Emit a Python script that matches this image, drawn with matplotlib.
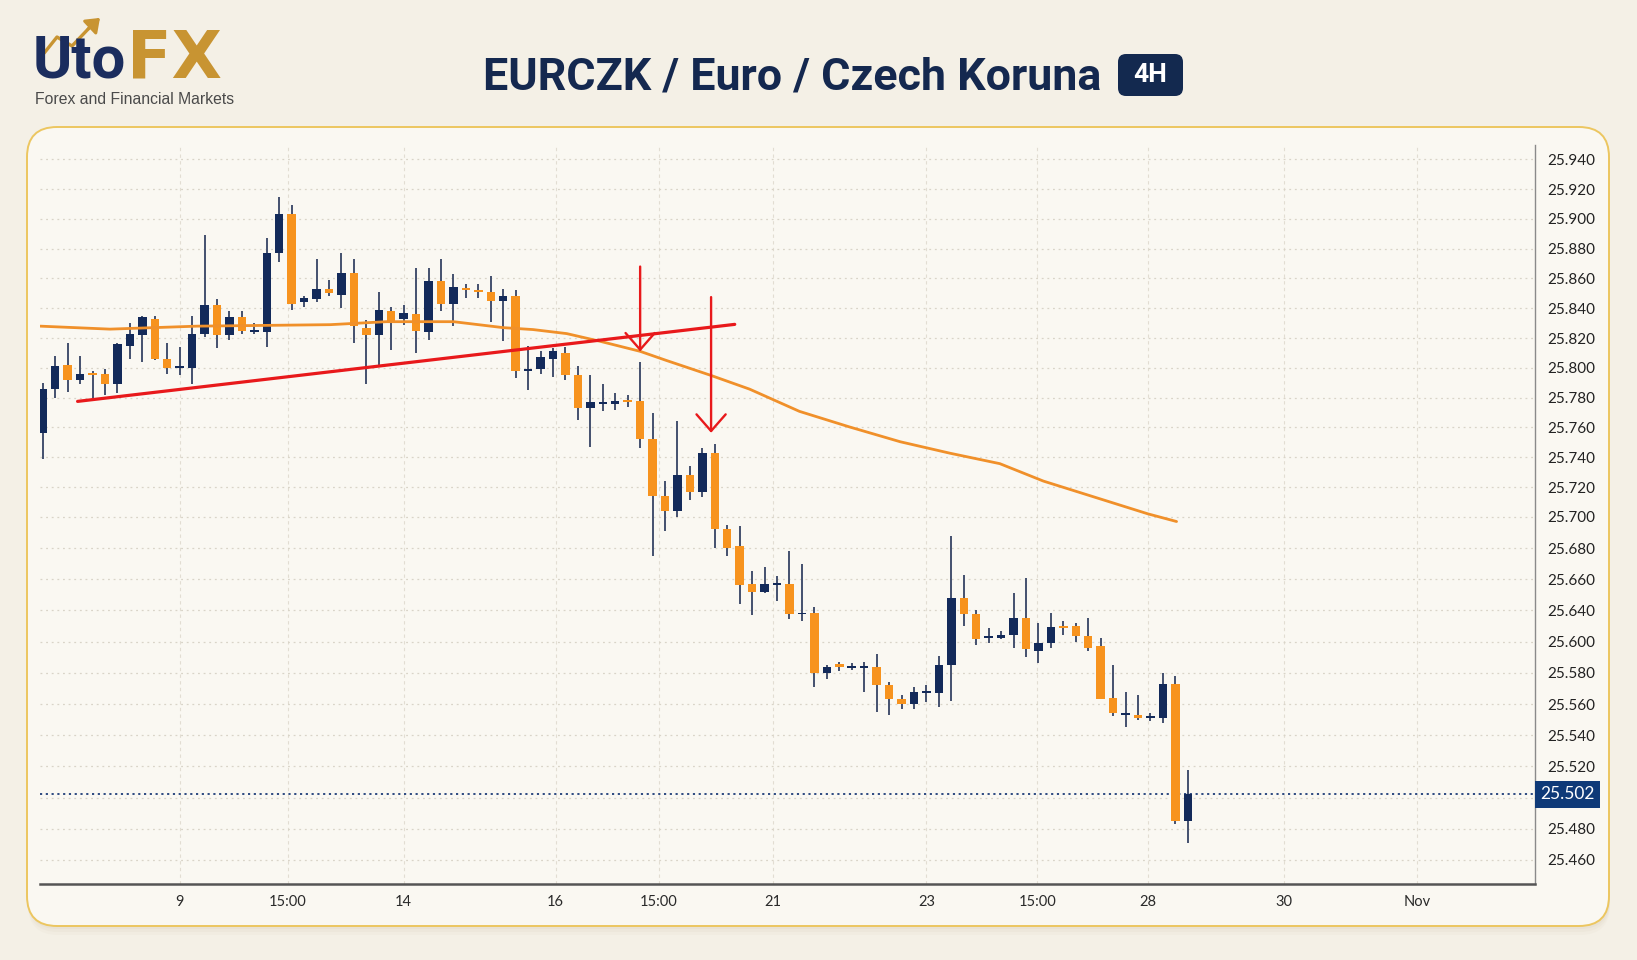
import numpy as np
import matplotlib
matplotlib.use("Agg")
import matplotlib.pyplot as plt
from matplotlib.patches import FancyBboxPatch
from matplotlib.transforms import blended_transform_factory

# ---------------- data ----------------
opens = [25.756, 25.786, 25.802, 25.792, 25.796, 25.796, 25.789, 25.815, 25.822, 25.833,
         25.806, 25.800, 25.800, 25.823, 25.842, 25.822, 25.834, 25.824, 25.824, 25.877,
         25.903, 25.844, 25.846, 25.853, 25.849, 25.864, 25.827, 25.822, 25.838, 25.833,
         25.836, 25.824, 25.858, 25.843, 25.853, 25.852, 25.851, 25.845, 25.848, 25.798,
         25.799, 25.806, 25.810, 25.795, 25.773, 25.776, 25.776, 25.778, 25.778, 25.752,
         25.714, 25.704, 25.728, 25.717, 25.743, 25.692, 25.681, 25.657, 25.652, 25.656,
         25.657, 25.635, 25.637, 25.580, 25.585, 25.583, 25.583, 25.584, 25.572, 25.563,
         25.560, 25.567, 25.567, 25.585, 25.648, 25.635, 25.604, 25.605, 25.608, 25.630,
         25.594, 25.599, 25.620, 25.620, 25.607, 25.597, 25.564, 25.553, 25.553, 25.551,
         25.551, 25.573, 25.485]
highs = [25.790, 25.808, 25.817, 25.808, 25.798, 25.799, 25.817, 25.830, 25.835, 25.835,
         25.817, 25.814, 25.835, 25.889, 25.846, 25.838, 25.838, 25.830, 25.887, 25.915,
         25.909, 25.848, 25.873, 25.859, 25.877, 25.873, 25.832, 25.851, 25.841, 25.842,
         25.867, 25.867, 25.873, 25.863, 25.856, 25.856, 25.862, 25.853, 25.852, 25.815,
         25.811, 25.813, 25.814, 25.801, 25.795, 25.789, 25.783, 25.782, 25.804, 25.770,
         25.724, 25.764, 25.734, 25.746, 25.749, 25.695, 25.694, 25.665, 25.668, 25.662,
         25.678, 25.670, 25.642, 25.585, 25.587, 25.586, 25.587, 25.592, 25.574, 25.566,
         25.571, 25.572, 25.591, 25.688, 25.663, 25.640, 25.618, 25.614, 25.651, 25.661,
         25.624, 25.637, 25.627, 25.624, 25.630, 25.604, 25.585, 25.568, 25.566, 25.554,
         25.580, 25.578, 25.518]
lows = [25.739, 25.780, 25.784, 25.789, 25.780, 25.782, 25.783, 25.806, 25.804, 25.805,
        25.796, 25.795, 25.789, 25.821, 25.813, 25.819, 25.823, 25.823, 25.814, 25.871,
        25.839, 25.841, 25.844, 25.848, 25.840, 25.817, 25.789, 25.802, 25.812, 25.829,
        25.810, 25.819, 25.838, 25.828, 25.847, 25.847, 25.831, 25.818, 25.793, 25.785,
        25.796, 25.794, 25.792, 25.765, 25.747, 25.771, 25.772, 25.774, 25.746, 25.675,
        25.691, 25.700, 25.711, 25.713, 25.680, 25.675, 25.644, 25.634, 25.651, 25.646,
        25.629, 25.627, 25.571, 25.576, 25.581, 25.582, 25.568, 25.555, 25.553, 25.557,
        25.557, 25.561, 25.558, 25.562, 25.620, 25.598, 25.599, 25.603, 25.596, 25.590,
        25.586, 25.596, 25.608, 25.600, 25.594, 25.563, 25.552, 25.545, 25.550, 25.549,
        25.548, 25.483, 25.471]
closes = [25.786, 25.801, 25.792, 25.796, 25.795, 25.789, 25.816, 25.823, 25.834, 25.806,
          25.800, 25.801, 25.823, 25.842, 25.822, 25.834, 25.825, 25.8245, 25.877, 25.903,
          25.843, 25.847, 25.853, 25.850, 25.864, 25.828, 25.822, 25.839, 25.830, 25.837,
          25.825, 25.858, 25.843, 25.854, 25.852, 25.851, 25.845, 25.848, 25.798, 25.799,
          25.807, 25.811, 25.795, 25.773, 25.777, 25.777, 25.778, 25.777, 25.752, 25.714,
          25.704, 25.728, 25.717, 25.743, 25.692, 25.680, 25.656, 25.652, 25.657, 25.657,
          25.636, 25.637, 25.580, 25.584, 25.584, 25.584, 25.584, 25.572, 25.563, 25.560,
          25.568, 25.568, 25.585, 25.648, 25.635, 25.603, 25.607, 25.609, 25.630, 25.595,
          25.599, 25.619, 25.618, 25.607, 25.596, 25.563, 25.554, 25.554, 25.551, 25.552,
          25.573, 25.485, 25.502]

# moving average (read at candle positions)
ma_index = [-0.2, 5.4, 12.4, 23.1, 27.6, 33.0, 37.0, 39.4, 42.1, 44.8, 48.0, 50.1,
            53.7, 56.8, 60.8, 64.8, 68.9, 72.9, 76.9, 80.4, 84.6, 88.8, 91.1]
ma_values = [25.828, 25.826, 25.828, 25.829, 25.831, 25.831, 25.827, 25.8257, 25.823,
             25.8178, 25.8111, 25.805, 25.7949, 25.7857, 25.7708, 25.7604, 25.7504,
             25.7427, 25.7357, 25.724, 25.713, 25.702, 25.697]

# red trend line and arrows
trend_index = [2.8, 55.6]
trend_values = [25.7775, 25.8292]
arrow_index = [48.0, 53.7]
arrow_from = [25.868, 25.8475]
arrow_to = [25.811, 25.7564]

last_price = 25.502

ytick_values = [25.94, 25.92, 25.90, 25.88, 25.86, 25.84, 25.82, 25.80, 25.78, 25.76,
                25.74, 25.72, 25.70, 25.68, 25.66, 25.64, 25.60, 25.58, 25.56, 25.54,
                25.52, 25.50, 25.48, 25.46]
ytick_labels = ["25.940", "25.920", "25.900", "25.880", "25.860", "25.840", "25.820",
                "25.800", "25.780", "25.760", "25.740", "25.720", "25.700", "25.680",
                "25.660", "25.640", "25.600", "25.580", "25.560", "25.540", "25.520",
                "", "25.480", "25.460"]

xtick_labels = ["9", "15:00", "14", "16", "15:00", "21", "23", "15:00", "28", "30", "Nov"]
xtick_index = [11.0, 19.7, 29.0, 41.2, 49.5, 58.7, 71.0, 79.9, 88.8, 99.7, 110.4]

title = "EURCZK / Euro / Czech Koruna"
badge = "4H"

# ---------------- style ----------------
W, H = 1637, 960
NAVY = "#132a5a"
ORANGE = "#f7931e"
WICK = "#44506e"
RED = "#e8191b"
MA_COL = "#f0902a"
BG = "#f4f0e6"
CARD = "#faf8f2"
GOLD = "#c89432"

fig = plt.figure(figsize=(W / 100, H / 100), dpi=100)
fig.patch.set_facecolor(BG)


def fx(px):
    return px / W


def fy(py):
    return 1 - py / H


# card + shadow (inch coordinates -> round corners stay circular)
for off, a in [(9, 0.10), (6, 0.14), (3, 0.2)]:
    sh = FancyBboxPatch(((27 + 1) / 100, (960 - 926 - off) / 100), (1609 - 27) / 100,
                        (926 - 127) / 100, boxstyle="round,pad=0,rounding_size=0.3",
                        transform=fig.dpi_scale_trans, facecolor="#d9cfb8",
                        edgecolor="none", alpha=a, zorder=-3)
    fig.patches.append(sh)
card = FancyBboxPatch((27 / 100, (960 - 926) / 100), (1609 - 27) / 100, (926 - 127) / 100,
                      boxstyle="round,pad=0,rounding_size=0.3",
                      transform=fig.dpi_scale_trans, facecolor=CARD,
                      edgecolor="#ecc660", linewidth=1.4, zorder=-2)
fig.patches.append(card)

# axes
ax = fig.add_axes([fx(40), fy(884), fx(1535) - fx(40), fy(145) - fy(884)])
ax.set_facecolor("none")

# price axis: tick values sit on a grid of slots (upper slots slightly tighter)
tv = np.array(ytick_values[::-1], dtype=float)
n_slots = len(ytick_values)
slot_gap = np.where(np.arange(n_slots - 1) < 12, 29.8, 31.2)
slot_pos_top_down = np.concatenate([[0.0], np.cumsum(slot_gap)]) / 30.0
pos = -slot_pos_top_down[::-1]
TOP_SLOPE = 29.8 / 30.0 / 0.02
BOT_SLOPE = 31.2 / 30.0 / 0.02


def fwd(v):
    v = np.asarray(v, dtype=float)
    out = np.interp(v, tv, pos)
    out = np.where(v < tv[0], pos[0] + (v - tv[0]) * BOT_SLOPE, out)
    out = np.where(v > tv[-1], pos[-1] + (v - tv[-1]) * TOP_SLOPE, out)
    return out


def inv(p):
    p = np.asarray(p, dtype=float)
    out = np.interp(p, pos, tv)
    out = np.where(p < pos[0], tv[0] + (p - pos[0]) / BOT_SLOPE, out)
    out = np.where(p > pos[-1], tv[-1] + (p - pos[-1]) / TOP_SLOPE, out)
    return out


ax.set_yscale("function", functions=(fwd, inv))

# candles
o = np.array(opens)
c = np.array(closes)
hi = np.array(highs)
lo = np.array(lows)
x = np.arange(len(o))
up = c >= o
colors = np.where(up, NAVY, ORANGE)
ax.vlines(x, lo, hi, color=WICK, linewidth=1.4, zorder=3)
body_h = np.maximum(np.abs(c - o), 0.0014)
ax.bar(x, body_h, bottom=np.minimum(o, c), width=0.68, color=colors, zorder=4,
       linewidth=0)

# moving average
ax.plot(ma_index, ma_values, color=MA_COL, linewidth=2.0, zorder=5,
        solid_capstyle="round", solid_joinstyle="round")

# trend line
ax.plot(trend_index, trend_values, color=RED, linewidth=2.3, zorder=6,
        solid_capstyle="round")

# arrows
for xi, a0, a1 in zip(arrow_index, arrow_from, arrow_to):
    ax.annotate("", xy=(xi, a1), xytext=(xi, a0),
                arrowprops=dict(arrowstyle="->,head_length=1.2,head_width=1.05",
                                color=RED, lw=1.7, shrinkA=0, shrinkB=0,
                                mutation_scale=10), zorder=7)

# last price line + label
ax.axhline(last_price, color="#1d3c78", linewidth=1.3, linestyle=(0, (1.2, 2.0)),
           zorder=2)
trans = blended_transform_factory(ax.transAxes, ax.transData)
ax.text(1.0 + 5 / 1495, last_price, f"{last_price:.3f}", transform=trans,
        ha="left", va="center", color="white", fontsize=12.5, family="Lato",
        bbox=dict(boxstyle="square,pad=0.3", facecolor="#0f3a78", edgecolor="none"),
        zorder=10, clip_on=False)

# limits
ax.set_xlim(-0.22, 119.9)
ax.set_ylim(25.4446, 25.9496)

# ticks
ax.yaxis.tick_right()
ax.set_yticks(ytick_values)
ax.set_yticklabels(ytick_labels)
ax.yaxis.set_minor_locator(matplotlib.ticker.NullLocator())
ax.set_xticks(xtick_index)
ax.set_xticklabels(xtick_labels)
ax.tick_params(axis="y", length=0, pad=9, labelsize=11, labelcolor="#222222")
ax.tick_params(axis="x", length=0, pad=8, labelsize=10.5, labelcolor="#2a2a2a")
for t in ax.get_yticklabels() + ax.get_xticklabels():
    t.set_family("Lato")

# grid
ax.grid(axis="y", color="#d9d4c8", linestyle=(0, (1.5, 3)), linewidth=0.9, zorder=0)
ax.grid(axis="x", color="#e2ddd2", linestyle=(0, (3, 3)), linewidth=0.8, zorder=0)
ax.set_axisbelow(True)

for s in ["top", "left"]:
    ax.spines[s].set_visible(False)
ax.spines["bottom"].set_color("#555555")
ax.spines["bottom"].set_linewidth(1.8)
ax.spines["right"].set_color("#8a8a8a")
ax.spines["right"].set_linewidth(1.0)

# title
fig.text(fx(483), fy(89.5), title, ha="left", va="baseline", fontsize=32.2,
         fontweight="bold", family="Roboto", color="#14284f")
bb = FancyBboxPatch((1118 / 100, (960 - 96) / 100), 65 / 100, 42 / 100,
                    boxstyle="round,pad=0,rounding_size=0.08",
                    transform=fig.dpi_scale_trans, facecolor="#13294f",
                    edgecolor="none", zorder=1)
fig.patches.append(bb)
fig.text(fx(1150.5), fy(75.5), badge, ha="center", va="center", fontsize=19,
         fontweight="bold", family="Roboto", color="white", zorder=2)

# logo
t_uto = fig.text(fx(33), fy(78), "Uto", ha="left", va="baseline", fontsize=43,
                 fontweight="bold", family="Roboto", color="#1b2d5e")
r = fig.canvas.get_renderer()
uto_end = t_uto.get_window_extent(r).x1
fig.text(uto_end / W + fx(1), fy(78), "FX", ha="left", va="baseline", fontsize=47,
         fontweight="bold", family="DejaVu Sans", color=GOLD)
fig.text(fx(35), fy(104.3), "Forex and Financial Markets", ha="left", va="baseline",
         fontsize=11.3, family="Liberation Sans", color="#4a4a4a")
fig.add_artist(matplotlib.lines.Line2D(
    [fx(45), fx(57), fx(72), fx(92)], [fy(52), fy(37), fy(46), fy(25)],
    color=GOLD, linewidth=2.4))
fig.add_artist(matplotlib.patches.FancyArrowPatch(
    (fx(86), fy(31)), (fx(102), fy(16)), transform=fig.transFigure,
    arrowstyle="-|>,head_length=0.6,head_width=0.45", mutation_scale=13,
    color=GOLD, linewidth=2.2))

fig.savefig("out.png", dpi=100, facecolor=BG)
